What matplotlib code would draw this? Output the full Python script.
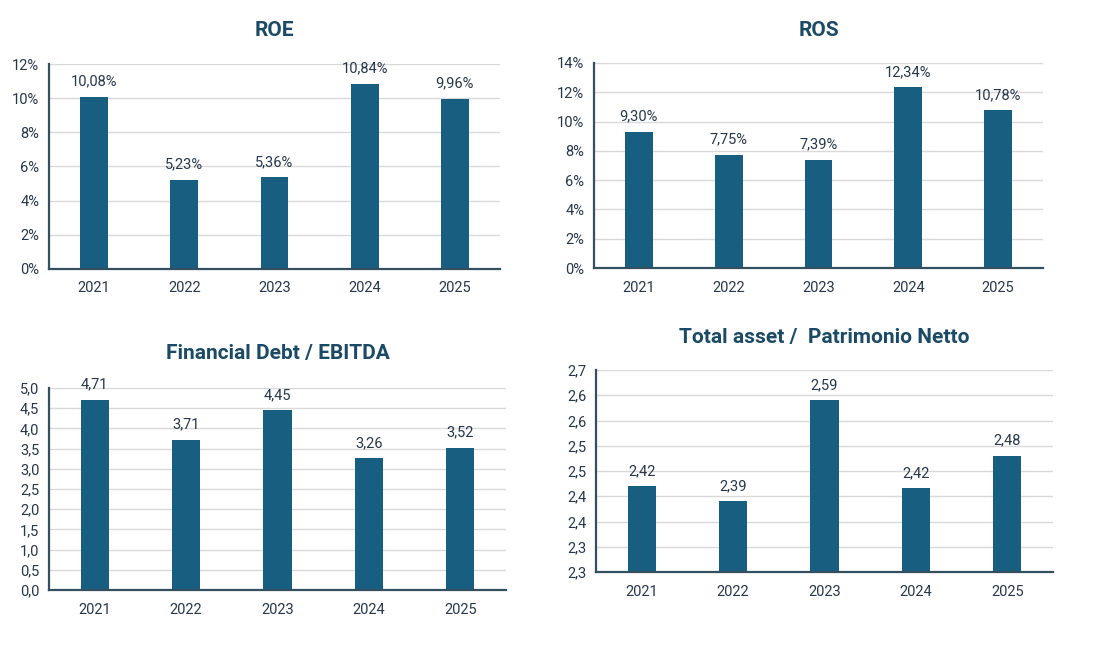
import matplotlib
matplotlib.use("Agg")
import matplotlib.pyplot as plt
from matplotlib.ticker import FixedLocator, FixedFormatter

anni = ['2021', '2022', '2023', '2024', '2025']

roe = [10.08, 5.23, 5.36, 10.84, 9.96]
ros = [9.30, 7.75, 7.39, 12.34, 10.78]
debt_ebitda = [4.71, 3.71, 4.45, 3.26, 3.52]
asset_pn = [2.42, 2.39, 2.59, 2.416, 2.48]

roe_ticks = [0, 2, 4, 6, 8, 10, 12]
ros_ticks = [0, 2, 4, 6, 8, 10, 12, 14]
debt_ticks = [0.0, 0.5, 1.0, 1.5, 2.0, 2.5, 3.0, 3.5, 4.0, 4.5, 5.0]
asset_ticks = [2.25, 2.30, 2.35, 2.40, 2.45, 2.50, 2.55, 2.60, 2.65]
asset_tick_labels = ['2,3', '2,3', '2,4', '2,4', '2,5', '2,5', '2,6', '2,6', '2,7']

COL_BAR = '#175E81'
COL_TITLE = '#1B4A66'
COL_TEXT = '#27374A'
COL_SPINE = '#34505F'
COL_GRID = '#D9D9D9'

FONT_TXT = ['Roboto', 'DejaVu Sans']
FONT_TITLE = ['Roboto', 'DejaVu Sans']

W, H = 1100, 646
fig = plt.figure(figsize=(W / 100, H / 100), dpi=100)


def px_axes(x0, y_top, x1, y_bot):
    return fig.add_axes([x0 / W, 1 - y_bot / H, (x1 - x0) / W, (y_bot - y_top) / H])


def disegna(ax, valori, ticks, labels, titolo, fmt, title_y):
    x = range(len(anni))
    ax.bar(x, valori, width=0.31, color=COL_BAR, zorder=3)
    ax.set_xlim(-0.5, len(anni) - 0.5)
    ax.set_ylim(ticks[0], ticks[-1])
    ax.yaxis.set_major_locator(FixedLocator(ticks))
    ax.yaxis.set_major_formatter(FixedFormatter(labels))
    ax.set_xticks(list(x))
    ax.set_xticklabels(anni)
    ax.grid(axis='y', color=COL_GRID, linewidth=1.0, zorder=0)
    ax.tick_params(length=0, labelsize=10.5, colors=COL_TEXT)
    ax.tick_params(axis='x', pad=9)
    ax.tick_params(axis='y', pad=7)
    for lab in ax.get_xticklabels() + ax.get_yticklabels():
        lab.set_family(FONT_TXT)
    for s in ['top', 'right']:
        ax.spines[s].set_visible(False)
    for s in ['left', 'bottom']:
        ax.spines[s].set_color(COL_SPINE)
        ax.spines[s].set_linewidth(1.6)
        ax.spines[s].set_zorder(4)
    for i, v in enumerate(valori):
        ax.annotate(fmt(v), (i, v), xytext=(0, 6), textcoords='offset points',
                    ha='center', va='bottom', fontsize=10.5, color=COL_TEXT,
                    family=FONT_TXT)
    bb = ax.get_position()
    fig.text((bb.x0 + bb.x1) / 2, 1 - title_y / H, titolo, ha='center', va='center',
             fontsize=15, fontweight='bold', color=COL_TITLE, family=FONT_TITLE)


def pct(v):
    return f'{v:.2f}%'.replace('.', ',')


def dec(v):
    return f'{v:.2f}'.replace('.', ',')


ax1 = px_axes(49, 64, 500, 269)
disegna(ax1, roe, roe_ticks, [f'{t}%' for t in roe_ticks], 'ROE', pct, 30)

ax2 = px_axes(594, 63, 1043, 268)
disegna(ax2, ros, ros_ticks, [f'{t}%' for t in ros_ticks], 'ROS', pct, 30)

ax3 = px_axes(49, 388, 506, 590)
disegna(ax3, debt_ebitda, debt_ticks, [f'{t:.1f}'.replace('.', ',') for t in debt_ticks],
        'Financial Debt / EBITDA', dec, 354)

ax4 = px_axes(596, 370, 1053, 572)
disegna(ax4, asset_pn, asset_ticks, asset_tick_labels,
        'Total asset /  Patrimonio Netto', dec, 337)

fig.savefig('out.png', dpi=100, facecolor='white')
